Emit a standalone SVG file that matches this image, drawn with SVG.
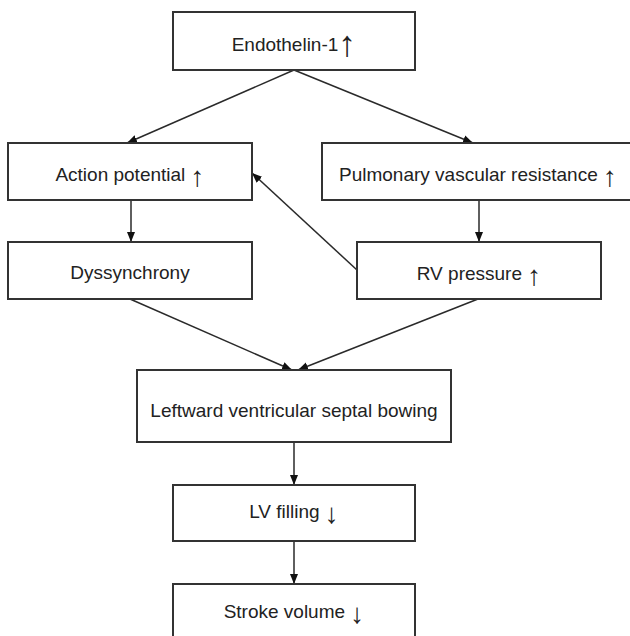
<svg xmlns="http://www.w3.org/2000/svg" width="630" height="636" viewBox="0 0 630 636">
<style>
.box{fill:#fff;stroke:#333;stroke-width:2}
.lbl{font-family:"Liberation Sans",Arial,sans-serif;font-size:19px;fill:#222;text-anchor:middle}
.ar{font-size:28px}
.ar1{font-size:36px}
.con{stroke:#2a2a2a;stroke-width:1.5;fill:none;marker-end:url(#ah)}
</style>
<defs>
<marker id="ah" markerUnits="userSpaceOnUse" markerWidth="10" markerHeight="10" viewBox="0 0 10 10" refX="10" refY="5" orient="auto">
<path d="M0,1 L10,5 L0,9 Z" fill="#111"/>
</marker>
</defs>
<rect width="630" height="636" fill="#fff"/>
<g id="connectors">
<line class="con" x1="294" y1="70" x2="127" y2="143"/>
<line class="con" x1="294" y1="70" x2="473" y2="143"/>
<line class="con" x1="131" y1="200" x2="131" y2="242"/>
<line class="con" x1="479" y1="200" x2="479" y2="242"/>
<line class="con" x1="357" y1="270" x2="252" y2="173"/>
<line class="con" x1="130" y1="299" x2="292" y2="370"/>
<line class="con" x1="478" y1="299" x2="298" y2="370"/>
<line class="con" x1="294" y1="442" x2="294" y2="485"/>
<line class="con" x1="294" y1="541" x2="294" y2="584"/>
</g>
<g id="endothelin"><rect class="box" x="173" y="12" width="242" height="58"/><text class="lbl" x="294" y="51">Endothelin-1<tspan class="ar1" dy="5">↑</tspan></text></g>
<g id="action-potential"><rect class="box" x="8" y="143" width="244" height="57"/><text class="lbl" x="130" y="181">Action potential <tspan class="ar" dy="5">↑</tspan></text></g>
<g id="pvr"><rect class="box" x="322" y="143" width="312" height="57"/><text class="lbl" x="478" y="181">Pulmonary vascular resistance <tspan class="ar" dy="5">↑</tspan></text></g>
<g id="dyssynchrony"><rect class="box" x="8" y="242" width="244" height="57"/><text class="lbl" x="130" y="279">Dyssynchrony</text></g>
<g id="rv-pressure"><rect class="box" x="357" y="242" width="244" height="57"/><text class="lbl" x="479" y="280">RV pressure <tspan class="ar" dy="5">↑</tspan></text></g>
<g id="septal-bowing"><rect class="box" x="137" y="370" width="314" height="72"/><text class="lbl" x="294" y="417">Leftward ventricular septal bowing</text></g>
<g id="lv-filling"><rect class="box" x="173" y="485" width="242" height="56"/><text class="lbl" x="294" y="518">LV filling <tspan class="ar" dy="5">↓</tspan></text></g>
<g id="stroke-volume"><rect class="box" x="173" y="584" width="242" height="60"/><text class="lbl" x="294" y="618">Stroke volume <tspan class="ar" dy="5">↓</tspan></text></g>
</svg>
